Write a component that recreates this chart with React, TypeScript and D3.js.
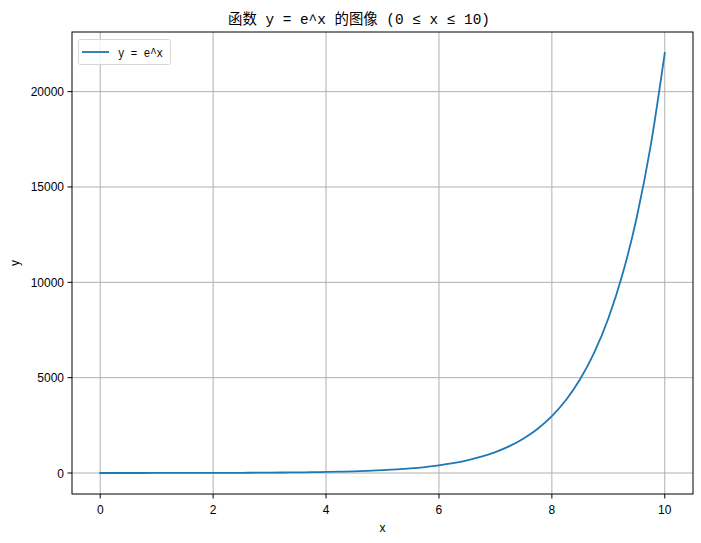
import { useEffect, useRef } from 'react'
import * as d3 from 'd3'

const xValues = [
  0, 0.25, 0.5, 0.75, 1, 1.25, 1.5, 1.75, 2, 2.25, 2.5, 2.75, 3, 3.25, 3.5, 3.75, 4,
  4.25, 4.5, 4.75, 5, 5.25, 5.5, 5.75, 6, 6.25, 6.5, 6.75, 7, 7.25, 7.5, 7.75, 8,
  8.25, 8.5, 8.75, 9, 9.25, 9.5, 9.75, 10
]
const yValues = [
  1, 1.3, 1.6, 2.1, 2.7, 3.5, 4.5, 5.8, 7.4, 9.5, 12.2, 15.6, 20, 26, 33, 43, 55,
  70, 90, 116, 148, 191, 245, 314, 403, 518, 665, 854, 1097, 1408, 1808, 2322, 2981,
  3827, 4915, 6311, 8103, 10405, 13360, 17154, 22026
]
const xTicks = [0, 2, 4, 6, 8, 10]
const yTicks = [0, 5000, 10000, 15000, 20000]

const titleText = '函数 y = e^x 的图像 (0 ≤ x ≤ 10)'
const legendLabel = 'y = e^x'
const xLabel = 'x'
const yLabel = 'y'

const W = 701
const H = 543
const FONT = 'Liberation Sans, Arial, sans-serif'
const MONO = '"Liberation Mono", "Noto Sans CJK SC", monospace'

export default function App() {
  const svgRef = useRef<SVGSVGElement>(null)

  useEffect(() => {
    if (!svgRef.current) return
    const svg = d3.select(svgRef.current)
    svg.selectAll('*').remove()

    const margin = { top: 32, right: 8, bottom: 49, left: 72 }
    const data = xValues.map((x, i) => ({ x, y: yValues[i] }))

    const xMin = d3.min(xValues) as number
    const xMax = d3.max(xValues) as number
    const yMin = d3.min(yValues) as number
    const yMax = d3.max(yValues) as number
    const xPad = (xMax - xMin) * 0.05
    const yPad = (yMax - yMin) * 0.05

    const x = d3.scaleLinear()
      .domain([xMin - xPad, xMax + xPad])
      .range([margin.left, W - margin.right])
    const y = d3.scaleLinear()
      .domain([yMin - yPad, yMax + yPad])
      .range([H - margin.bottom, margin.top])

    svg.append('rect').attr('width', W).attr('height', H).style('fill', '#fff')

    // Grid
    xTicks.forEach(t => {
      svg.append('line')
        .attr('x1', x(t)).attr('x2', x(t))
        .attr('y1', margin.top).attr('y2', H - margin.bottom)
        .style('stroke', '#b0b0b0').style('stroke-width', '1px')
    })
    yTicks.forEach(t => {
      svg.append('line')
        .attr('x1', margin.left).attr('x2', W - margin.right)
        .attr('y1', y(t)).attr('y2', y(t))
        .style('stroke', '#b0b0b0').style('stroke-width', '1px')
    })

    // Curve
    const line = d3.line<{ x: number; y: number }>()
      .x(d => x(d.x))
      .y(d => y(d.y))
      .curve(d3.curveMonotoneX)
    svg.append('path')
      .datum(data)
      .attr('d', line)
      .style('fill', 'none')
      .style('stroke', '#1f77b4')
      .style('stroke-width', '1.8px')
      .style('stroke-linecap', 'square')

    // Frame
    svg.append('rect')
      .attr('x', margin.left).attr('y', margin.top)
      .attr('width', W - margin.left - margin.right)
      .attr('height', H - margin.top - margin.bottom)
      .style('fill', 'none').style('stroke', '#000').style('stroke-width', '1px')

    // X ticks
    xTicks.forEach(t => {
      svg.append('line')
        .attr('x1', x(t)).attr('x2', x(t))
        .attr('y1', H - margin.bottom).attr('y2', H - margin.bottom + 4.5)
        .style('stroke', '#000').style('stroke-width', '1px')
      svg.append('text')
        .attr('x', x(t)).attr('y', H - margin.bottom + 20)
        .attr('text-anchor', 'middle')
        .style('font-family', FONT).style('font-size', '12px').style('fill', '#000')
        .text(String(t))
    })

    // Y ticks
    yTicks.forEach(t => {
      svg.append('line')
        .attr('x1', margin.left - 4.5).attr('x2', margin.left)
        .attr('y1', y(t)).attr('y2', y(t))
        .style('stroke', '#000').style('stroke-width', '1px')
      svg.append('text')
        .attr('x', margin.left - 8).attr('y', y(t) + 4.5)
        .attr('text-anchor', 'end')
        .style('font-family', FONT).style('font-size', '12px').style('fill', '#000')
        .text(String(t))
    })

    // Axis labels
    svg.append('text')
      .attr('x', (margin.left + W - margin.right) / 2).attr('y', 532)
      .attr('text-anchor', 'middle')
      .style('font-family', FONT).style('font-size', '12px')
      .text(xLabel)
    svg.append('text')
      .attr('transform', `translate(19, ${(margin.top + H - margin.bottom) / 2}) rotate(-90)`)
      .attr('text-anchor', 'middle')
      .style('font-family', FONT).style('font-size', '12px')
      .text(yLabel)

    // Title
    svg.append('text')
      .attr('x', 228).attr('y', 24)
      .attr('textLength', 262)
      .attr('lengthAdjust', 'spacingAndGlyphs')
      .style('font-family', MONO).style('font-size', '14.5px').style('fill', '#000')
      .text(titleText)

    // Legend
    const lg = svg.append('g')
    lg.append('rect')
      .attr('x', 78.5).attr('y', 39.5).attr('width', 92).attr('height', 25).attr('rx', 2)
      .style('fill', '#fff').style('fill-opacity', 0.8)
      .style('stroke', '#d6d6d6').style('stroke-width', '1px')
    lg.append('line')
      .attr('x1', 82).attr('x2', 109).attr('y1', 52).attr('y2', 52)
      .style('stroke', '#1f77b4').style('stroke-width', '1.8px')
    lg.append('text')
      .attr('x', 118).attr('y', 57)
      .attr('textLength', 45)
      .attr('lengthAdjust', 'spacingAndGlyphs')
      .style('font-family', MONO).style('font-size', '12px')
      .text(legendLabel)
  }, [])

  return (
    <svg
      ref={svgRef}
      width={W}
      height={H}
      style={{ position: 'absolute', left: 0, top: 0, display: 'block' }}
    />
  )
}
